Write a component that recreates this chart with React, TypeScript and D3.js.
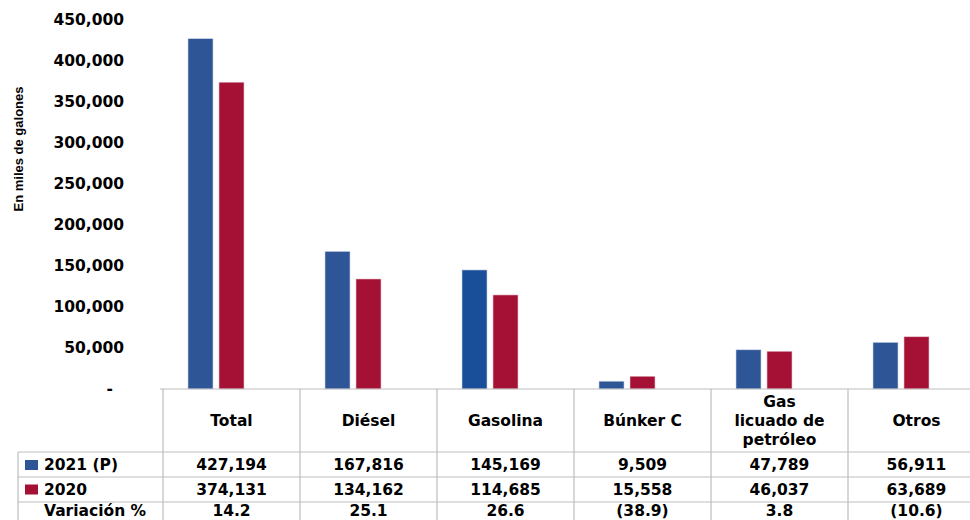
import * as d3 from 'd3'

const categories = [['Total'], ['Diésel'], ['Gasolina'], ['Búnker C'], ['Gas', 'licuado de', 'petróleo'], ['Otros']]
const values2021 = [427194, 167816, 145169, 9509, 47789, 56911]
const values2020 = [374131, 134162, 114685, 15558, 46037, 63689]
const variacion = ['14.2', '25.1', '26.6', '(38.9)', '3.8', '(10.6)']
const yTicks = [0, 50000, 100000, 150000, 200000, 250000, 300000, 350000, 400000, 450000]

const BLUE = '#2E5596'
const BLUE_GAS = '#194E98'
const RED = '#A51035'
const GRID = '#BDBDBD'
const FONT = "'DejaVu Sans', Verdana, sans-serif"

export default function App() {
  const width = 970
  const height = 520
  const plotLeft = 163
  const colW = 137
  const baseY = 389

  const x = d3.scaleBand<number>()
    .domain(d3.range(categories.length))
    .range([plotLeft, plotLeft + colW * categories.length])
    .padding(0)

  const y = d3.scaleLinear().domain([0, 450000]).range([baseY, 20])
  const fmt = d3.format(',')

  const barW = 25
  const rowTops = [baseY, 452, 477, 502]
  // text centre of each table row (last row sits near the bottom edge)
  const rowCenters = [465, 489.5, 511]
  const tableLeft = 18
  const tableRight = plotLeft + colW * categories.length

  const rows = [
    { label: '2021 (P)', color: BLUE, vals: values2021.map(fmt) },
    { label: '2020', color: RED, vals: values2020.map(fmt) },
    { label: 'Variación %', color: null, vals: variacion },
  ]

  return (
    <svg width={width} height={height} style={{ position: 'absolute', left: 0, top: 0, background: '#fff' }}>
      {/* y axis labels */}
      {yTicks.map(t => (
        <text key={t} x={t === 0 ? 113 : 124} y={y(t)} dy="0.35em" textAnchor="end"
          fontFamily={FONT} fontWeight="bold" fontSize={15.5} fill="#000">
          {t === 0 ? '-' : fmt(t)}
        </text>
      ))}
      <text transform={`translate(23,149) rotate(-90)`} textAnchor="middle"
        fontFamily="'Liberation Sans Narrow', 'Arial Narrow', sans-serif" fontWeight="bold" fontSize={13} fill="#000">
        En miles de galones
      </text>

      {/* bars */}
      {categories.map((_, i) => {
        const x0 = x(i)!
        return (
          <g key={i}>
            <rect x={x0 + 25} y={y(values2021[i])} width={barW} height={baseY - y(values2021[i])}
              fill={i === 2 ? BLUE_GAS : BLUE} stroke="#c9d3e6" strokeWidth={0.6} />
            <rect x={x0 + 56} y={y(values2020[i])} width={barW} height={baseY - y(values2020[i])}
              fill={RED} stroke="#e6c3cc" strokeWidth={0.6} />
          </g>
        )
      })}

      {/* data table */}
      <g stroke={GRID} strokeWidth={1.2} fill="none">
        <line x1={plotLeft - 3} x2={tableRight} y1={baseY} y2={baseY} />
        {rowTops.slice(1).map(r => (
          <line key={r} x1={tableLeft} x2={tableRight} y1={r} y2={r} />
        ))}
        <line x1={tableLeft} x2={tableLeft} y1={rowTops[1]} y2={height} />
        {d3.range(categories.length + 1).map(i => (
          <line key={i} x1={plotLeft + colW * i} x2={plotLeft + colW * i} y1={baseY} y2={height} />
        ))}
      </g>

      {categories.map((lines, i) => {
        const cx = x(i)! + colW / 2
        const cy = 421
        return (
          <text key={i} textAnchor="middle" fontFamily={FONT} fontWeight="bold" fontSize={15.5} fill="#000">
            {lines.map((l, j) => (
              <tspan key={j} x={cx} y={cy + (j - (lines.length - 1) / 2) * 19} dy="0.35em">{l}</tspan>
            ))}
          </text>
        )
      })}

      {rows.map((row, r) => {
        const cy = rowCenters[r]
        return (
          <g key={r}>
            {row.color && <rect x={25} y={cy - 5} width={13} height={10} fill={row.color} />}
            <text x={44} y={cy} dy="0.35em" fontFamily={FONT} fontWeight="bold" fontSize={15.5} fill="#000">
              {row.label}
            </text>
            {row.vals.map((v, i) => (
              <text key={i} x={x(i)! + colW / 2} y={cy} dy="0.35em" textAnchor="middle"
                fontFamily={FONT} fontWeight="bold" fontSize={15.5} fill="#000">
                {v}
              </text>
            ))}
          </g>
        )
      })}
    </svg>
  )
}
